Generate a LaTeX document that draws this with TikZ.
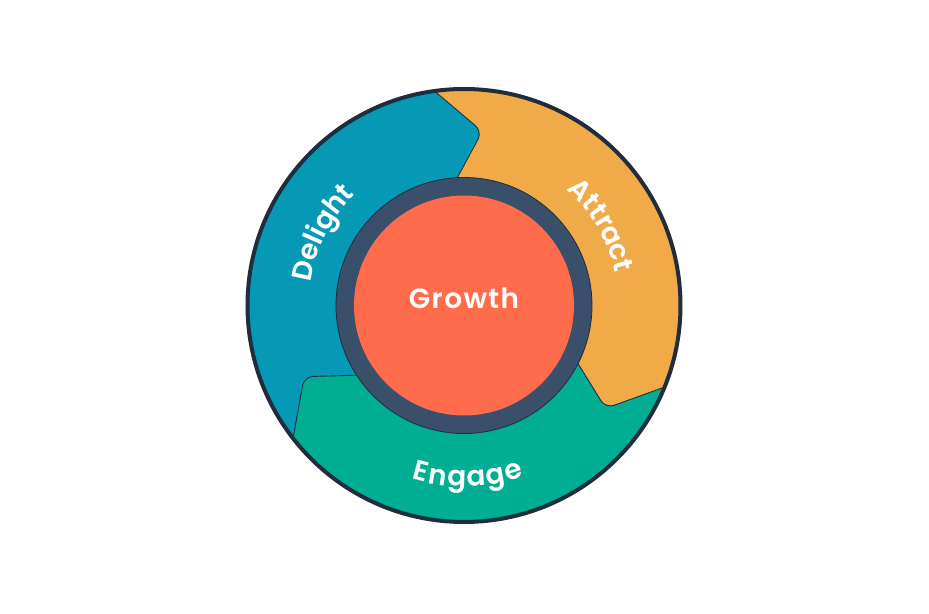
\documentclass[tikz,border=0pt]{standalone}
\usepackage{fontspec}
\newfontfamily\lblfont{Poppins SemiBold}[LetterSpace=5]
\usetikzlibrary{calc}
\definecolor{delightblue}{HTML}{0699B6}
\definecolor{attractorange}{HTML}{F0AA48}
\definecolor{engagegreen}{HTML}{00AE94}
\definecolor{growthred}{HTML}{FF6C4C}
\definecolor{ringdark}{HTML}{3A4F69}
\definecolor{outline}{HTML}{1F2D3D}
\tikzset{
  seg/.style={rounded corners=9bp},
  segline/.style={draw=outline, line width=0.9bp, rounded corners=9bp},
  lbl/.style={text=white, inner sep=0pt, anchor=base, font=\lblfont\fontsize{28}{28}\selectfont},
}
\begin{document}
\begin{tikzpicture}[x=1bp,y=1bp]
\useasboundingbox (-464,-308.5) rectangle (465,305.5);
% chevron geometry (corner, inner and outer points)
\coordinate (cA) at (84:175);   \coordinate (iA) at (93:128);  \coordinate (oA) at (97:213);
\coordinate (cB) at (-36:175);  \coordinate (iB) at (-27:128); \coordinate (oB) at (-23:213);
\coordinate (cC) at (204:175);  \coordinate (iC) at (213:128); \coordinate (oC) at (217:213);
\foreach \k in {A,B,C}{
  \coordinate (i\k2) at ($(c\k)!1.7!(i\k)$);
  \coordinate (o\k3) at ($(c\k)!3!(o\k)$);
}
\coordinate (O) at (0,0);
\begin{scope}
  \clip (O) circle (216);
  \fill[delightblue, seg] (O) -- (iA2) -- (cA) -- (oA3) -- (150:400) -- (oC3) -- (cC) -- (iC2) -- cycle;
  \fill[attractorange, seg] (O) -- (iA2) -- (cA) -- (oA3) -- (40:400) -- (oB3) -- (cB) -- (iB2) -- cycle;
  \fill[engagegreen, seg] (O) -- (iB2) -- (cB) -- (oB3) -- (-90:400) -- (oC3) -- (cC) -- (iC2) -- cycle;
  \draw[segline] (iA2) -- (cA) -- (oA3);
  \draw[segline] (iB2) -- (cB) -- (oB3);
  \draw[segline] (iC2) -- (cC) -- (oC3);
\end{scope}
% rings
\fill[ringdark, draw=outline, line width=0.8bp] (O) circle (128);
\fill[growthred] (O) circle (110);
\draw[outline, line width=4bp] (O) circle (216.5);
% labels
\node[lbl] (growth) at (0,-3.5) {Growth};
\foreach \ch/\a [count=\n] in {E/255.4, n/261.4, g/267.8, a/274.0, g/280.3, e/286.5}
  \node[lbl, rotate=\a+90] (eng\n) at (\a:181) {\ch};
\foreach \ch/\a [count=\n] in {D/167.8, e/160.9, l/156.3, i/153.2, g/148.4, h/141.8, t/136.5}
  \node[lbl, rotate=\a-90] (del\n) at (\a:155) {\ch};
\foreach \ch/\a [count=\n] in {A/44.9, t/39.2, t/35.0, r/30.85, a/25.5, c/19.2, t/14.2}
  \node[lbl, rotate=\a-90] (att\n) at (\a:155) {\ch};
\end{tikzpicture}
\end{document}
